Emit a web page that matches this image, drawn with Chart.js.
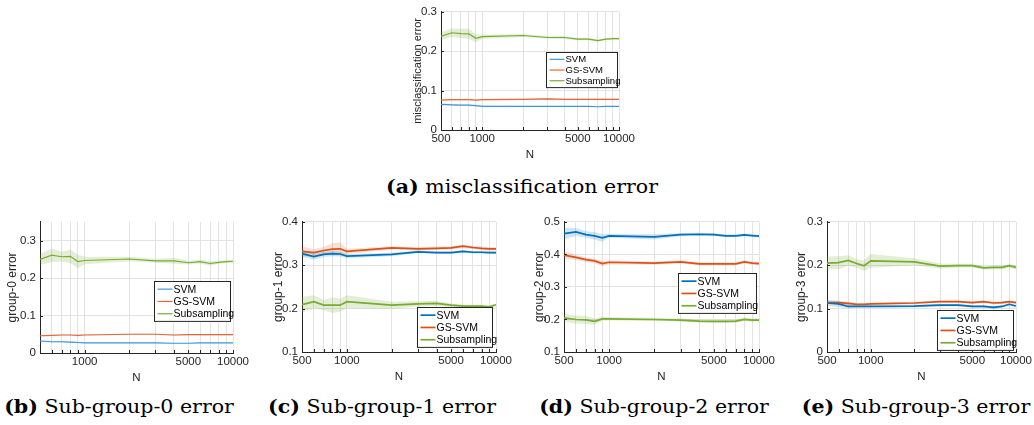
<!DOCTYPE html>
<html>
<head>
<meta charset="utf-8">
<script src="https://cdn.jsdelivr.net/npm/chart.js@4"></script>
<style>
  body { margin: 0; background: #fff; width: 1034px; height: 425px; position: relative; overflow: hidden; }
  .panel { position: absolute; }
  .cap { position: absolute; font-family: "DejaVu Serif", "Liberation Serif", serif; font-size: 19px; line-height: 22px; color: #000; white-space: nowrap; transform: translateX(-50%) scaleX(1.08); }
  .cap b { font-weight: bold; }
</style>
</head>
<body>

<div class="panel" id="boxA"><canvas id="chartA"></canvas></div>
<div class="panel" id="boxB"><canvas id="chartB"></canvas></div>
<div class="panel" id="boxC"><canvas id="chartC"></canvas></div>
<div class="panel" id="boxD"><canvas id="chartD"></canvas></div>
<div class="panel" id="boxE"><canvas id="chartE"></canvas></div>

<div class="cap" style="left:522px; top:175px;"><b>(a)</b> misclassification error</div>
<div class="cap" style="left:119px; top:395px;"><b>(b)</b> Sub-group-0 error</div>
<div class="cap" style="left:382px; top:395px;"><b>(c)</b> Sub-group-1 error</div>
<div class="cap" style="left:654px; top:395px;"><b>(d)</b> Sub-group-2 error</div>
<div class="cap" style="left:916px; top:395px;"><b>(e)</b> Sub-group-3 error</div>

<script>
// ========== data ==========
const N = [500, 600, 700, 800, 900, 1000, 2000, 3000, 4000, 5000, 6000, 7000, 8000, 9000, 10000];
const xLabels = [500, 1000, 5000, 10000];
const xLabelsB = [1000, 5000, 10000];
const seriesNames = ["SVM", "GS-SVM", "Subsampling"];

// (a) misclassification error
const aSvm     = [0.065, 0.064, 0.063, 0.063, 0.062, 0.060, 0.060, 0.060, 0.060, 0.060, 0.060, 0.059, 0.060, 0.060, 0.060];
const aSvmBand = [0.002, 0.002, 0.002, 0.002, 0.002, 0.002, 0.001, 0.001, 0.001, 0.001, 0.001, 0.001, 0.001, 0.001, 0.001];
const aGs      = [0.076, 0.077, 0.077, 0.077, 0.076, 0.077, 0.078, 0.079, 0.078, 0.078, 0.078, 0.078, 0.078, 0.078, 0.078];
const aGsBand  = [0.002, 0.002, 0.002, 0.002, 0.002, 0.002, 0.002, 0.003, 0.002, 0.002, 0.002, 0.002, 0.002, 0.002, 0.002];
const aSub     = [0.238, 0.247, 0.245, 0.244, 0.233, 0.237, 0.240, 0.235, 0.235, 0.231, 0.231, 0.227, 0.231, 0.232, 0.232];
const aSubBand = [0.010, 0.011, 0.012, 0.013, 0.010, 0.005, 0.004, 0.003, 0.004, 0.003, 0.003, 0.003, 0.003, 0.003, 0.003];
const aTicks = [0, 0.1, 0.2, 0.3];

// (b) group-0 error
const bSvm     = [0.032, 0.030, 0.030, 0.029, 0.028, 0.027, 0.027, 0.027, 0.026, 0.026, 0.027, 0.027, 0.027, 0.027, 0.027];
const bSvmBand = [0.002, 0.002, 0.002, 0.002, 0.002, 0.001, 0.001, 0.001, 0.001, 0.001, 0.001, 0.001, 0.001, 0.001, 0.001];
const bGs      = [0.046, 0.047, 0.048, 0.048, 0.047, 0.048, 0.050, 0.050, 0.048, 0.049, 0.049, 0.049, 0.049, 0.049, 0.049];
const bGsBand  = [0.002, 0.002, 0.002, 0.002, 0.002, 0.002, 0.002, 0.002, 0.002, 0.002, 0.002, 0.002, 0.002, 0.002, 0.002];
const bSub     = [0.250, 0.261, 0.257, 0.258, 0.244, 0.247, 0.251, 0.246, 0.246, 0.241, 0.244, 0.239, 0.242, 0.244, 0.245];
const bSubBand = [0.015, 0.018, 0.013, 0.018, 0.018, 0.010, 0.006, 0.005, 0.008, 0.005, 0.005, 0.006, 0.004, 0.004, 0.004];
const bTicks = [0, 0.1, 0.2, 0.3];

// (c) group-1 error
const cSvm     = [0.327, 0.320, 0.325, 0.327, 0.326, 0.321, 0.325, 0.331, 0.329, 0.329, 0.332, 0.330, 0.330, 0.329, 0.329];
const cSvmBand = [0.008, 0.007, 0.006, 0.006, 0.006, 0.005, 0.004, 0.003, 0.003, 0.003, 0.003, 0.003, 0.003, 0.003, 0.003];
const cGs      = [0.332, 0.329, 0.334, 0.337, 0.338, 0.332, 0.340, 0.338, 0.339, 0.340, 0.344, 0.341, 0.339, 0.338, 0.338];
const cGsBand  = [0.012, 0.008, 0.008, 0.014, 0.015, 0.006, 0.004, 0.004, 0.004, 0.004, 0.004, 0.004, 0.004, 0.004, 0.004];
const cSub     = [0.209, 0.216, 0.208, 0.208, 0.208, 0.216, 0.208, 0.211, 0.212, 0.208, 0.206, 0.206, 0.206, 0.204, 0.209];
const cSubBand = [0.018, 0.015, 0.012, 0.018, 0.015, 0.015, 0.008, 0.006, 0.006, 0.004, 0.003, 0.003, 0.003, 0.003, 0.003];
const cTicks = [0.1, 0.2, 0.3, 0.4];

// (d) group-2 error
const dSvm     = [0.464, 0.469, 0.461, 0.457, 0.451, 0.457, 0.454, 0.461, 0.462, 0.461, 0.457, 0.457, 0.460, 0.458, 0.456];
const dSvmBand = [0.018, 0.012, 0.010, 0.012, 0.012, 0.006, 0.008, 0.005, 0.005, 0.004, 0.004, 0.004, 0.004, 0.004, 0.004];
const dGs      = [0.398, 0.391, 0.384, 0.380, 0.372, 0.376, 0.373, 0.377, 0.371, 0.371, 0.371, 0.371, 0.377, 0.373, 0.372];
const dGsBand  = [0.012, 0.008, 0.007, 0.007, 0.008, 0.006, 0.005, 0.005, 0.005, 0.005, 0.005, 0.005, 0.005, 0.005, 0.005];
const dSub     = [0.205, 0.200, 0.199, 0.194, 0.202, 0.202, 0.200, 0.198, 0.195, 0.194, 0.194, 0.195, 0.200, 0.198, 0.198];
const dSubBand = [0.012, 0.012, 0.012, 0.010, 0.006, 0.005, 0.005, 0.005, 0.005, 0.005, 0.005, 0.005, 0.005, 0.005, 0.005];
const dTicks = [0.1, 0.2, 0.3, 0.4, 0.5];

// (e) group-3 error
const eSvm     = [0.113, 0.111, 0.105, 0.105, 0.105, 0.105, 0.106, 0.108, 0.108, 0.105, 0.105, 0.103, 0.105, 0.110, 0.106];
const eSvmBand = [0.007, 0.007, 0.004, 0.003, 0.003, 0.003, 0.003, 0.003, 0.003, 0.003, 0.003, 0.003, 0.003, 0.003, 0.003];
const eGs      = [0.114, 0.114, 0.112, 0.110, 0.110, 0.111, 0.113, 0.116, 0.116, 0.114, 0.116, 0.113, 0.114, 0.116, 0.114];
const eGsBand  = [0.004, 0.004, 0.004, 0.003, 0.003, 0.003, 0.003, 0.003, 0.003, 0.003, 0.003, 0.003, 0.003, 0.003, 0.003];
const eSub     = [0.205, 0.206, 0.211, 0.204, 0.199, 0.210, 0.208, 0.198, 0.199, 0.199, 0.194, 0.195, 0.195, 0.199, 0.195];
const eSubBand = [0.015, 0.015, 0.012, 0.010, 0.012, 0.016, 0.008, 0.006, 0.004, 0.004, 0.004, 0.004, 0.004, 0.004, 0.004];
const eTicks = [0, 0.1, 0.2, 0.3];

// ========== colours ==========
const BLUE = "#0072BD", BLUE_LIGHT = "#3E98D8", ORANGE = "#D95319", ORANGE_LIGHT = "#E4683A", GREEN = "#77AC30";
const BAND = { [BLUE]: "rgba(0,114,189,0.18)", [BLUE_LIGHT]: "rgba(0,114,189,0.15)",
               [ORANGE]: "rgba(217,83,25,0.18)", [ORANGE_LIGHT]: "rgba(217,83,25,0.15)",
               [GREEN]: "rgba(119,172,48,0.2)" };
const AXIS = "#262626", GRID = "#e3e3e3";
const SANS = "'Liberation Sans', Arial, sans-serif";

// ticks pointing inward + legend box inside the axes
const panelDecor = {
  id: "panelDecor",
  afterDatasetsDraw(chart, args, opts) {
    const ctx = chart.ctx, area = chart.chartArea;
    const xs = chart.scales.x, ys = chart.scales.y;
    ctx.save();
    ctx.strokeStyle = AXIS;
    ctx.lineWidth = 1;
    xs.ticks.forEach(t => {
      const px = Math.round(xs.getPixelForValue(t.value)) + 0.5;
      ctx.beginPath(); ctx.moveTo(px, area.bottom); ctx.lineTo(px, area.bottom - 3); ctx.stroke();
    });
    ys.ticks.forEach(t => {
      const py = Math.round(ys.getPixelForValue(t.value)) + 0.5;
      ctx.beginPath(); ctx.moveTo(area.left, py); ctx.lineTo(area.left + 3, py); ctx.stroke();
    });

    const lg = opts.legend;
    const lines = chart.data.datasets.filter(ds => !ds.isBand);
    const h = lines.length * lg.rowH + 3;
    const x = Math.round(area.right - lg.right - lg.w) + 0.5;
    const y = Math.round(lg.top != null ? area.top + lg.top : area.bottom - lg.bottom - h) + 0.5;
    ctx.fillStyle = "#fff";
    ctx.fillRect(x, y, lg.w, h);
    ctx.strokeStyle = AXIS;
    ctx.lineWidth = 1;
    ctx.strokeRect(x, y, lg.w, h);
    ctx.font = lg.font + "px " + SANS;
    ctx.textBaseline = "middle";
    lines.forEach((ds, i) => {
      const cy = y + 1.5 + lg.rowH * (i + 0.5);
      ctx.strokeStyle = ds.borderColor;
      ctx.lineWidth = ds.borderWidth;
      ctx.beginPath(); ctx.moveTo(x + 3, cy); ctx.lineTo(x + 18, cy); ctx.stroke();
      ctx.fillStyle = "#000";
      ctx.fillText(ds.label, x + 19, cy + 0.5);
    });
    ctx.restore();
  }
};

function makePanel(id, boxId, p) {
  const box = document.getElementById(boxId);
  const w = p.yW + (p.right - p.left) + p.padR;
  const h = 8 + (p.bottom - p.top) + 32;
  box.style.left = (p.left - p.yW) + "px";
  box.style.top = (p.top - 8) + "px";
  box.style.width = w + "px";
  box.style.height = h + "px";

  const datasets = [];
  p.series.forEach((s, i) => {
    datasets.push({ label: seriesNames[i], data: s.mean, borderColor: s.color, backgroundColor: s.color,
      borderWidth: p.lw, pointRadius: 0, tension: 0, fill: false, order: 0 });
  });
  p.series.forEach(s => {
    datasets.push({ isBand: true, data: s.mean.map((v, k) => v + s.band[k]), borderWidth: 0, pointRadius: 0,
      backgroundColor: BAND[s.color], fill: "+1", order: 1 });
    datasets.push({ isBand: true, data: s.mean.map((v, k) => v - s.band[k]), borderWidth: 0, pointRadius: 0,
      fill: false, order: 1 });
  });

  new Chart(document.getElementById(id), {
    type: "line",
    data: { labels: N, datasets },
    plugins: [panelDecor],
    options: {
      responsive: true,
      maintainAspectRatio: false,
      animation: false,
      devicePixelRatio: 1,
      layout: { padding: { top: 8, right: p.padR, left: 0, bottom: 0 } },
      plugins: { legend: { display: false }, tooltip: { enabled: false }, panelDecor: { legend: p.legend } },
      scales: {
        x: {
          type: "logarithmic", min: 500, max: 10000,
          afterBuildTicks: sc => { sc.ticks = N.map(v => ({ value: v })); },
          afterFit: sc => { sc.height = 32; },
          ticks: { autoSkip: false, maxRotation: 0, padding: 2, color: AXIS, font: { family: SANS, size: 11.5 },
            callback: v => p.xLabels.includes(v) ? String(v) : "" },
          grid: { color: GRID, drawTicks: false, lineWidth: 1 },
          border: { color: AXIS, width: 1 },
          title: { display: true, text: "N", color: AXIS, font: { family: SANS, size: 11.5 }, padding: 0 }
        },
        y: {
          type: "linear", min: p.yMin, max: p.yMax,
          afterBuildTicks: sc => { sc.ticks = p.yTicks.map(v => ({ value: v })); },
          afterFit: sc => { sc.width = p.yW; },
          ticks: { padding: 4, color: AXIS, font: { family: SANS, size: 11.5 }, callback: v => String(+v.toFixed(2)) },
          grid: { color: GRID, drawTicks: false, lineWidth: 1 },
          border: { color: AXIS, width: 1 },
          title: { display: true, text: p.yTitle, color: AXIS, font: { family: SANS, size: p.yTitleSize }, padding: 0 }
        }
      }
    }
  });
}

makePanel("chartA", "boxA", {
  left: 441, top: 9, right: 619, bottom: 130, yW: 30, padR: 20, lw: 1.2,
  yMin: 0, yMax: 0.3, yTicks: aTicks, xLabels: xLabels, yTitle: "misclassification error", yTitleSize: 11,
  legend: { right: 2, top: 40, w: 71, rowH: 10.7, font: 9.5 },
  series: [{ mean: aSvm, band: aSvmBand, color: BLUE_LIGHT }, { mean: aGs, band: aGsBand, color: ORANGE_LIGHT },
           { mean: aSub, band: aSubBand, color: GREEN }]
});

makePanel("chartB", "boxB", {
  left: 40, top: 219, right: 233, bottom: 353, yW: 35, padR: 20, lw: 1.2,
  yMin: 0, yMax: 0.35, yTicks: bTicks, xLabels: xLabelsB, yTitle: "group-0 error", yTitleSize: 12,
  legend: { right: 3, top: 59, w: 76, rowH: 12.3, font: 10.5 },
  series: [{ mean: bSvm, band: bSvmBand, color: BLUE_LIGHT }, { mean: bGs, band: bGsBand, color: ORANGE_LIGHT },
           { mean: bSub, band: bSubBand, color: GREEN }]
});

makePanel("chartC", "boxC", {
  left: 302, top: 219, right: 496, bottom: 352, yW: 31, padR: 20, lw: 1.7,
  yMin: 0.1, yMax: 0.4, yTicks: cTicks, xLabels: xLabels, yTitle: "group-1 error", yTitleSize: 12,
  legend: { right: 4, bottom: 5, w: 75, rowH: 12.3, font: 10.5 },
  series: [{ mean: cSvm, band: cSvmBand, color: BLUE }, { mean: cGs, band: cGsBand, color: ORANGE },
           { mean: cSub, band: cSubBand, color: GREEN }]
});

makePanel("chartD", "boxD", {
  left: 564, top: 219, right: 759, bottom: 352, yW: 32, padR: 20, lw: 1.7,
  yMin: 0.1, yMax: 0.5, yTicks: dTicks, xLabels: xLabels, yTitle: "group-2 error", yTitleSize: 12,
  legend: { right: 3, top: 51, w: 78, rowH: 12.3, font: 10.5 },
  series: [{ mean: dSvm, band: dSvmBand, color: BLUE }, { mean: dGs, band: dGsBand, color: ORANGE },
           { mean: dSub, band: dSubBand, color: GREEN }]
});

makePanel("chartE", "boxE", {
  left: 827, top: 219, right: 1021, bottom: 352, yW: 33, padR: 13, lw: 1.7,
  yMin: 0, yMax: 0.3, yTicks: eTicks, xLabels: xLabels, yTitle: "group-3 error", yTitleSize: 12,
  legend: { right: 3, bottom: 2, w: 76, rowH: 12.3, font: 10.5 },
  series: [{ mean: eSvm, band: eSvmBand, color: BLUE }, { mean: eGs, band: eGsBand, color: ORANGE },
           { mean: eSub, band: eSubBand, color: GREEN }]
});
</script>
</body>
</html>
